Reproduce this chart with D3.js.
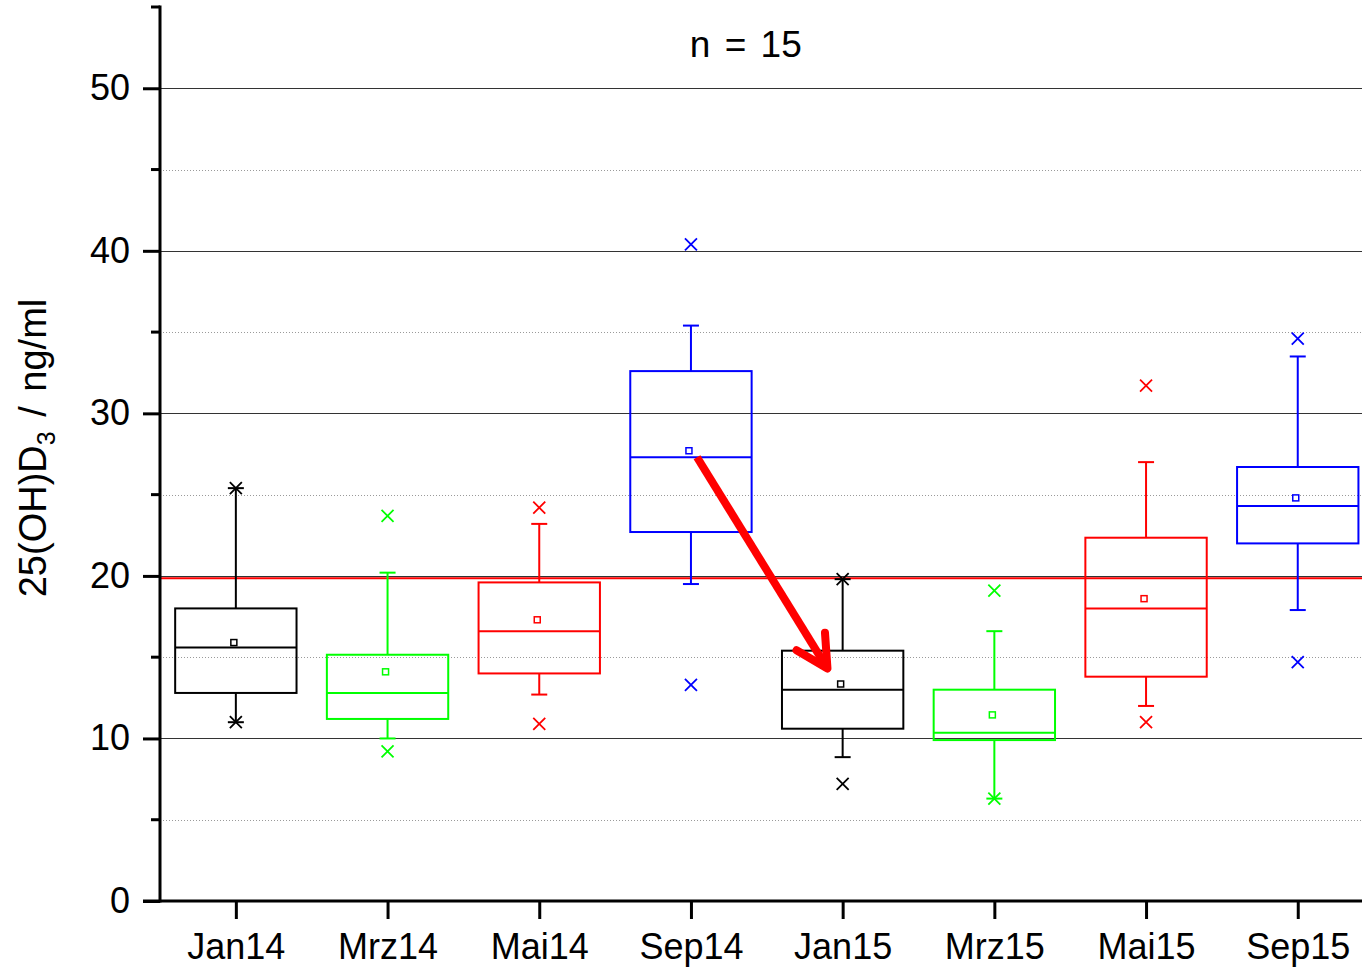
<!DOCTYPE html>
<html>
<head>
<meta charset="utf-8">
<script src="https://cdn.jsdelivr.net/npm/d3@7"></script>
<style>
  body { margin: 0; background: #fff; }
  text { font-family: Arial, 'Liberation Sans', sans-serif; fill: #000; }
</style>
</head>
<body>
<div id="chart"></div>
<script>
// categories and colours of the eight samplings
const categories = ['Jan14', 'Mrz14', 'Mai14', 'Sep14', 'Jan15', 'Mrz15', 'Mai15', 'Sep15'];
const boxColors = ['#000000', '#00ff00', '#ff0000', '#0000ff', '#000000', '#00ff00', '#ff0000', '#0000ff'];

// box statistics (ng/ml)
const q1 = [12.8, 11.2, 14.0, 22.7, 10.6, 9.9, 13.8, 22.0];
const median = [15.6, 12.8, 16.6, 27.3, 13.0, 10.35, 18.0, 24.3];
const q3 = [18.0, 15.15, 19.6, 32.6, 15.4, 13.0, 22.35, 26.7];
const mean = [15.9, 14.1, 17.3, 27.7, 13.35, 11.45, 18.6, 24.8];
const whiskerLow = [11.0, 10.0, 12.7, 19.5, 8.85, 6.3, 12.0, 17.9];
const whiskerHigh = [25.4, 20.2, 23.2, 35.4, 19.8, 16.6, 27.0, 33.5];
const markLow = [11.0, 9.2, 10.9, 13.3, 7.2, 6.3, 11.0, 14.7];
const markHigh = [25.4, 23.7, 24.2, 40.4, 19.8, 19.1, 31.7, 34.6];

// reference line and arrow annotation
const refLine = 19.85;
const arrowFrom = { pos: 3.04, value: 27.3 };
const arrowTo = { pos: 3.9, value: 14.3 };

const yMajorTicks = [0, 10, 20, 30, 40, 50];
const yMinorTicks = [5, 15, 25, 35, 45, 55];

const width = 1362;
const height = 967;
const margin = { top: 7, left: 160, bottom: 66 };
const plotBottom = height - margin.bottom;

const svg = d3.select('#chart')
  .append('svg')
  .attr('width', width)
  .attr('height', height);

const x = d3.scalePoint()
  .domain(categories)
  .range([margin.left, margin.left + 8 * 151.7])
  .padding(0.5);

const xPos = d3.scaleLinear()
  .domain([0, categories.length - 1])
  .range([x(categories[0]), x(categories[categories.length - 1])]);

const y = d3.scaleLinear()
  .domain([0, 55])
  .range([plotBottom, margin.top]);

const boxW = x.step() * 0.8;

// grid
svg.append('g')
  .selectAll('line')
  .data(yMinorTicks.filter(d => d < 55))
  .enter()
  .append('line')
  .attr('x1', margin.left)
  .attr('x2', width)
  .attr('y1', d => Math.round(y(d)) + 0.5)
  .attr('y2', d => Math.round(y(d)) + 0.5)
  .attr('stroke', '#9a9a9a')
  .attr('stroke-width', 1)
  .attr('stroke-dasharray', '1,2');

svg.append('g')
  .selectAll('line')
  .data(yMajorTicks.filter(d => d > 0))
  .enter()
  .append('line')
  .attr('x1', margin.left)
  .attr('x2', width)
  .attr('y1', d => Math.round(y(d)) + 0.5)
  .attr('y2', d => Math.round(y(d)) + 0.5)
  .attr('stroke', '#333')
  .attr('stroke-width', 1);

// reference line
svg.append('line')
  .attr('x1', margin.left)
  .attr('x2', width)
  .attr('y1', y(refLine))
  .attr('y2', y(refLine))
  .attr('stroke', '#ff0000')
  .attr('stroke-width', 2);

// boxes
const idx = d3.range(categories.length);
const boxes = svg.append('g')
  .selectAll('g')
  .data(idx)
  .enter()
  .append('g')
  .attr('stroke', i => boxColors[i])
  .attr('fill', 'none')
  .attr('stroke-width', 2);

boxes.append('line')
  .attr('x1', i => x(categories[i]))
  .attr('x2', i => x(categories[i]))
  .attr('y1', i => y(q3[i]))
  .attr('y2', i => y(whiskerHigh[i]));

boxes.append('line')
  .attr('x1', i => x(categories[i]))
  .attr('x2', i => x(categories[i]))
  .attr('y1', i => y(q1[i]))
  .attr('y2', i => y(whiskerLow[i]));

[whiskerHigh, whiskerLow].forEach((arr) => {
  boxes.append('line')
    .attr('x1', i => x(categories[i]) - 8)
    .attr('x2', i => x(categories[i]) + 8)
    .attr('y1', i => y(arr[i]))
    .attr('y2', i => y(arr[i]));
});

boxes.append('rect')
  .attr('x', i => x(categories[i]) - boxW / 2)
  .attr('width', boxW)
  .attr('y', i => y(q3[i]))
  .attr('height', i => y(q1[i]) - y(q3[i]));

boxes.append('line')
  .attr('x1', i => x(categories[i]) - boxW / 2)
  .attr('x2', i => x(categories[i]) + boxW / 2)
  .attr('y1', i => y(median[i]))
  .attr('y2', i => y(median[i]));

boxes.append('rect')
  .attr('x', i => x(categories[i]) - 5)
  .attr('y', i => y(mean[i]) - 3)
  .attr('width', 6)
  .attr('height', 6)
  .attr('stroke-width', 1.5)
  .attr('fill', '#fff');

const cross = 6;
[markHigh, markLow].forEach((arr) => {
  boxes.append('path')
    .attr('stroke-width', 1.8)
    .attr('d', (i) => {
      const cx = x(categories[i]);
      const cy = y(arr[i]);
      return `M${cx - cross},${cy - cross}L${cx + cross},${cy + cross}`
        + `M${cx - cross},${cy + cross}L${cx + cross},${cy - cross}`;
    });
});

// arrow
const ax1 = xPos(arrowFrom.pos);
const ay1 = y(arrowFrom.value);
const ax2 = xPos(arrowTo.pos);
const ay2 = y(arrowTo.value);
const ang = Math.atan2(ay2 - ay1, ax2 - ax1);
const headLen = 36;
const headAng = Math.PI / 6.5;
const arrow = svg.append('g')
  .attr('stroke', '#ff0000')
  .attr('stroke-width', 8)
  .attr('fill', 'none')
  .attr('stroke-linecap', 'round')
  .attr('stroke-linejoin', 'round');
arrow.append('line')
  .attr('x1', ax1).attr('y1', ay1)
  .attr('x2', ax2).attr('y2', ay2)
  .attr('stroke-linecap', 'butt');
arrow.append('path')
  .attr('d', `M${ax2 - headLen * Math.cos(ang - headAng)},${ay2 - headLen * Math.sin(ang - headAng)}`
    + `L${ax2},${ay2}`
    + `L${ax2 - headLen * Math.cos(ang + headAng)},${ay2 - headLen * Math.sin(ang + headAng)}`);

// axes
const yAxis = svg.append('g')
  .attr('transform', `translate(${margin.left}, 0)`)
  .call(d3.axisLeft(y).tickValues(yMajorTicks).tickSize(17).tickPadding(13).tickFormat(d3.format('d')));
yAxis.select('.domain').remove();
yAxis.selectAll('.tick line').attr('stroke-width', 3);
yAxis.selectAll('.tick text').style('font-size', '36px').attr('fill', '#000');

svg.append('g')
  .selectAll('line')
  .data(yMinorTicks)
  .enter()
  .append('line')
  .attr('x1', margin.left - 9)
  .attr('x2', margin.left)
  .attr('y1', d => y(d))
  .attr('y2', d => y(d))
  .attr('stroke', '#000')
  .attr('stroke-width', 3);

const xAxis = svg.append('g')
  .attr('transform', `translate(0, ${plotBottom})`)
  .call(d3.axisBottom(x).tickSize(18).tickPadding(14));
xAxis.select('.domain').remove();
xAxis.selectAll('.tick line').attr('stroke-width', 3);
xAxis.selectAll('.tick text').style('font-size', '36px').attr('fill', '#000');

svg.append('line')
  .attr('x1', margin.left)
  .attr('x2', margin.left)
  .attr('y1', margin.top - 1.5)
  .attr('y2', plotBottom + 1.5)
  .attr('stroke', '#000')
  .attr('stroke-width', 3);

svg.append('line')
  .attr('x1', margin.left - 17)
  .attr('x2', width)
  .attr('y1', plotBottom)
  .attr('y2', plotBottom)
  .attr('stroke', '#000')
  .attr('stroke-width', 3);

// labels
const yLabel = svg.append('text')
  .attr('transform', `translate(46, ${(y(0) + y(55)) / 2 - 6}) rotate(-90)`)
  .attr('text-anchor', 'middle')
  .style('font-size', '38px')
  .style('word-spacing', '4px');
yLabel.append('tspan').text('25(OH)D');
yLabel.append('tspan').attr('dy', 9).style('font-size', '25px').text('3');
yLabel.append('tspan').attr('dy', -9).text(' / ng/ml');

svg.append('text')
  .attr('x', xPos(3.5) - 21)
  .attr('y', 57)
  .attr('text-anchor', 'middle')
  .style('font-size', '37px')
  .style('word-spacing', '4px')
  .text('n = 15');
</script>
</body>
</html>
